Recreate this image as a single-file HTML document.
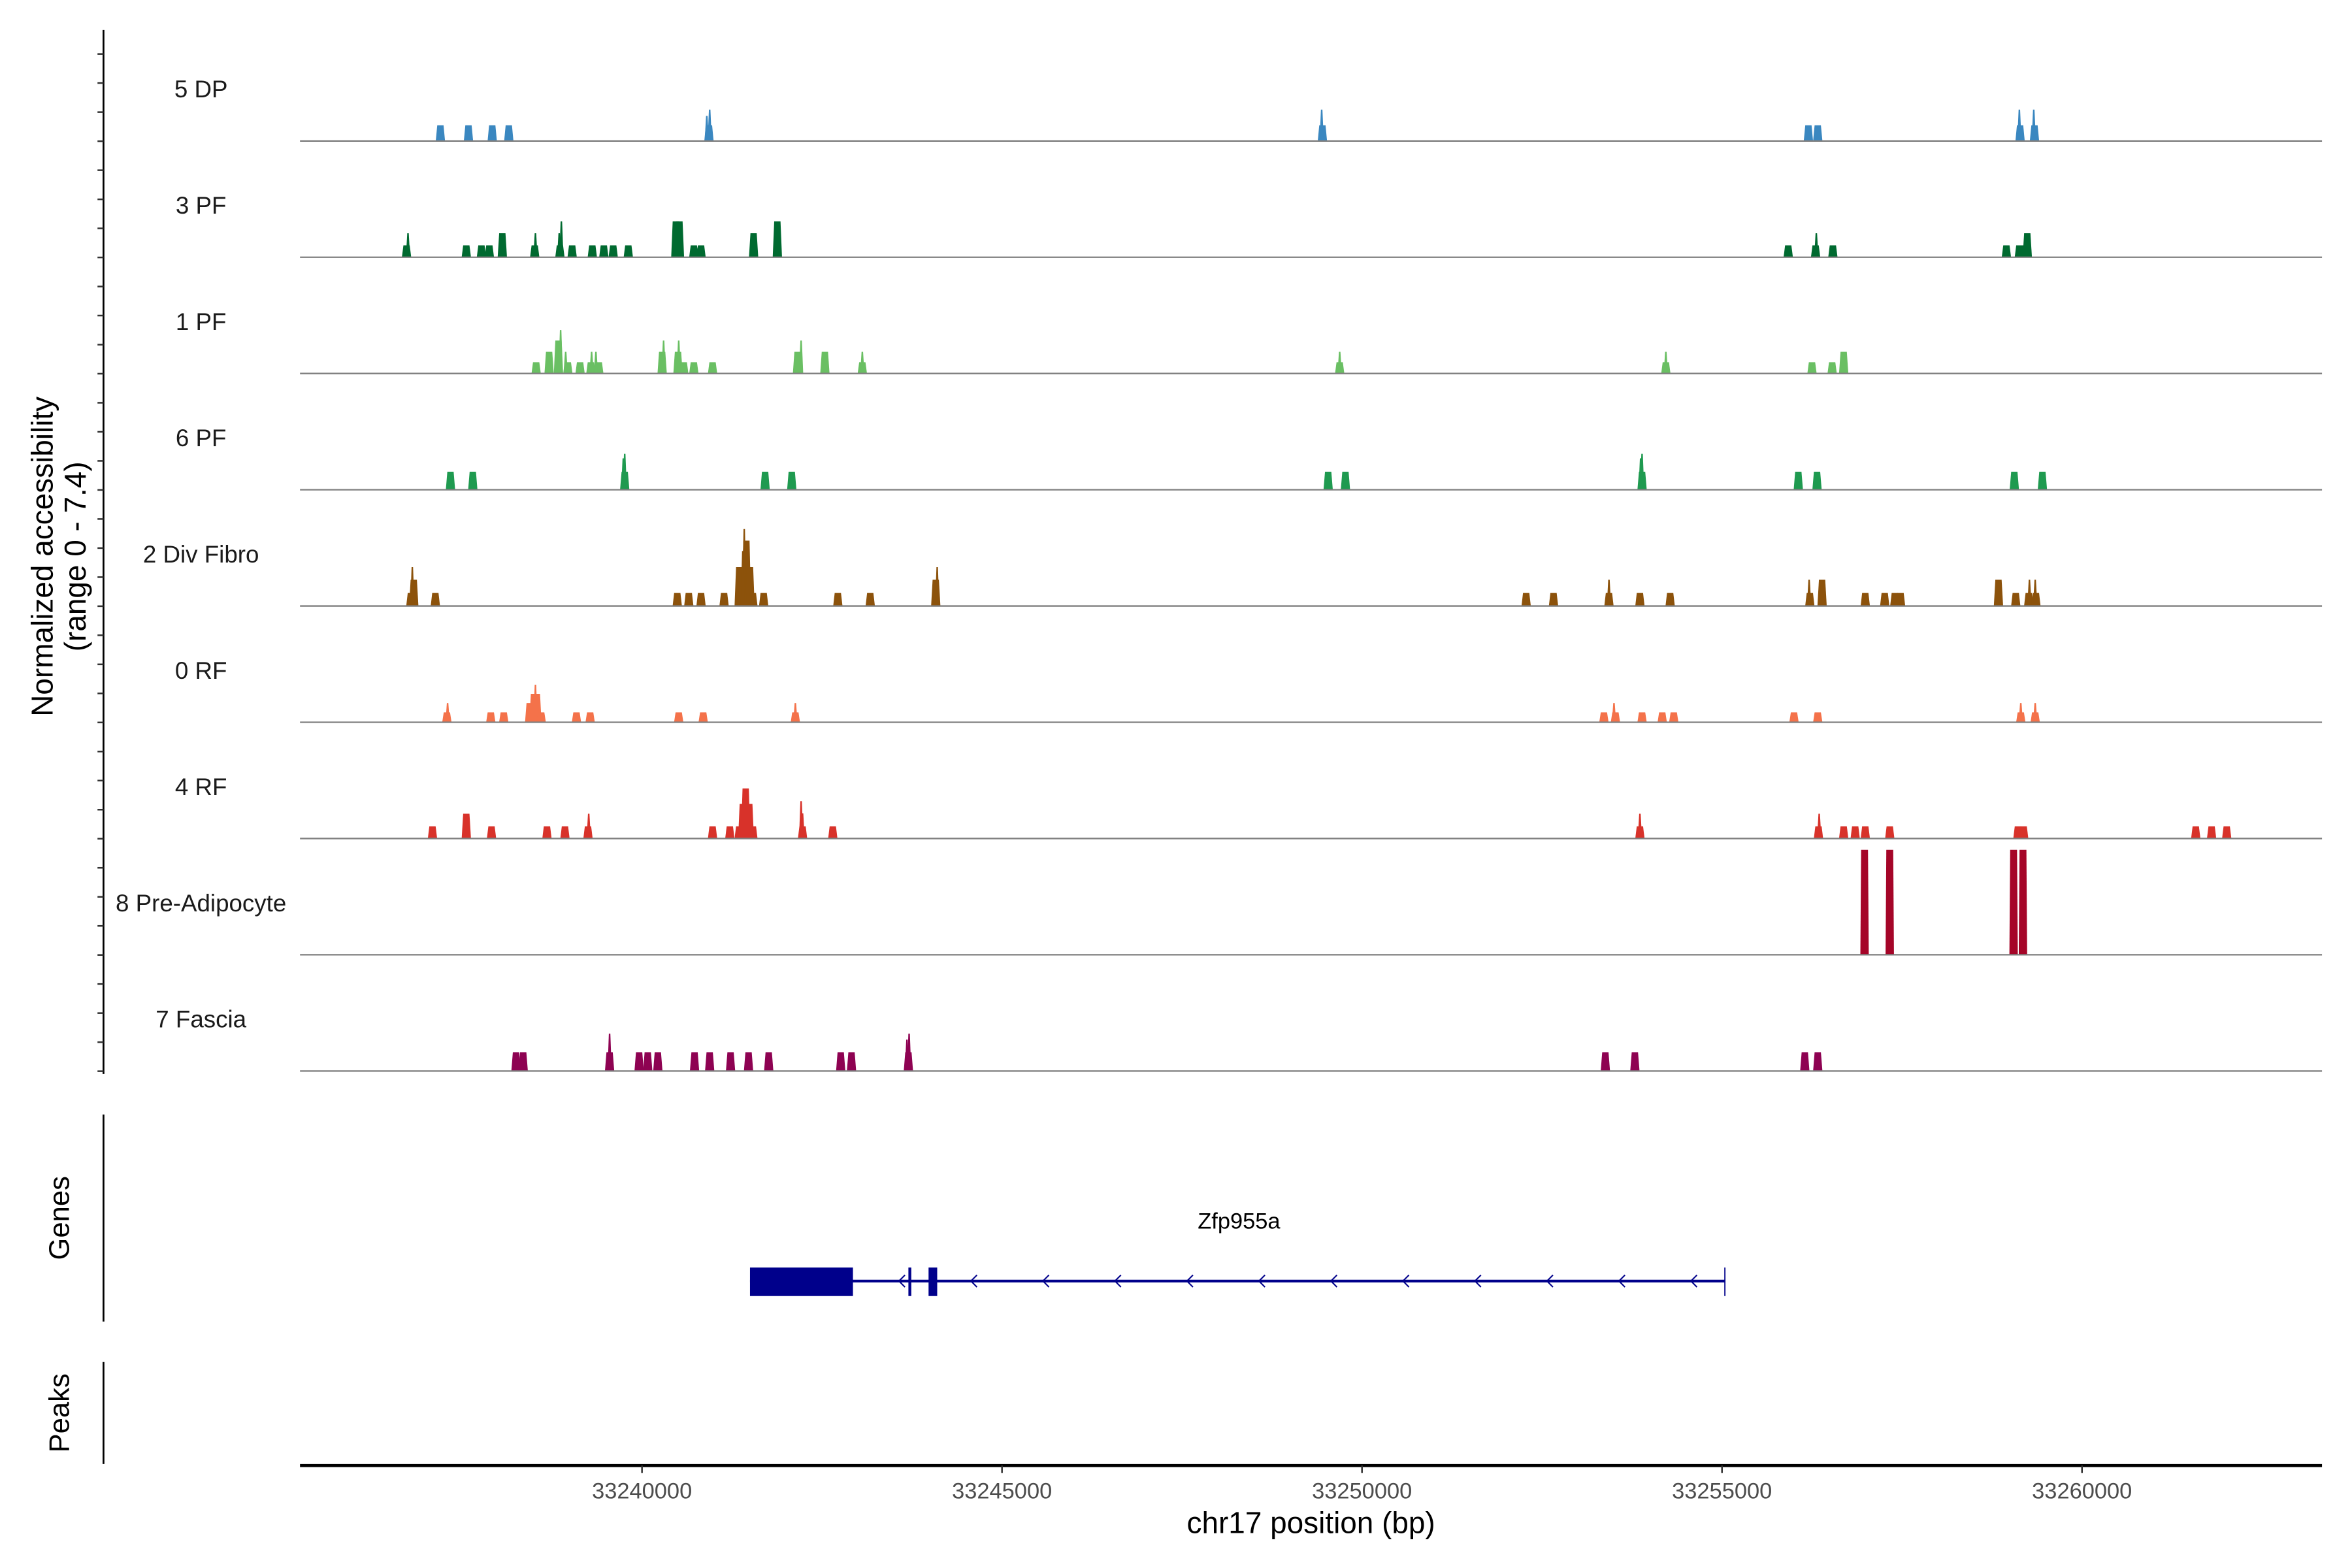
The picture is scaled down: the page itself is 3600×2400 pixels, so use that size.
<!DOCTYPE html>
<html><head><meta charset="utf-8"><style>
html,body{margin:0;padding:0;background:#fff;}
svg{display:block;}
text{font-family:"Liberation Sans",Arial,sans-serif;}
</style></head><body>
<svg id="chart" width="3600" height="2400" viewBox="0 0 1568 1045.3" preserveAspectRatio="none" xmlns="http://www.w3.org/2000/svg">
<g id="axes">
  <line x1="69" y1="20" x2="69" y2="716" stroke="#000" stroke-width="1.2"/>
  <g id="yticks"></g>
  <text transform="translate(35,371) rotate(-90)" text-anchor="middle" font-size="20">Normalized accessibility</text>
  <text transform="translate(57,371) rotate(-90)" text-anchor="middle" font-size="20">(range 0 - 7.4)</text>
  <line x1="69" y1="743" x2="69" y2="881" stroke="#000" stroke-width="1.2"/>
  <text transform="translate(46,812) rotate(-90)" text-anchor="middle" font-size="19">Genes</text>
  <line x1="69" y1="908" x2="69" y2="976" stroke="#000" stroke-width="1.2"/>
  <text transform="translate(46,942) rotate(-90)" text-anchor="middle" font-size="19">Peaks</text>
  <line x1="200" y1="977" x2="1548" y2="977" stroke="#000" stroke-width="2"/>
  <g id="xticks"></g>
  <text x="874" y="1022" text-anchor="middle" font-size="20">chr17 position (bp)</text>
</g>
<g id="tracks"></g>
<g id="gene">
  <text x="826" y="819" text-anchor="middle" font-size="15">Zfp955a</text>
</g>
</svg>
<script>
// ---- data (positions in kb, values in normalized accessibility) ----
const trackNames = ["5 DP","3 PF","1 PF","6 PF","2 Div Fibro","0 RF","4 RF","8 Pre-Adipocyte","7 Fascia"];
const trackColors = ["#3a87c0","#006a30","#6abf63","#1f9a50","#8c520b","#f4724a","#d8322a","#a50528","#8e0252"];
const xTickValues = [33240000,33245000,33250000,33255000,33260000];
const xTickLabels = ["33240000","33245000","33250000","33255000","33260000"];
const yRangeMax = 7.4;

const peaksDP = [[33237.20,1.0],[33237.59,1.0],[33237.92,1.0],[33238.15,1.0],[33240.93,1.0],[33249.45,1.0],[33256.20,1.0],[33256.33,1.0],[33259.14,1.0],[33259.34,1.0]];
const spikesDP = [[33240.94,2.0],[33240.90,1.6],[33249.44,2.0],[33259.13,2.0],[33259.33,2.0]];
const peaks3PF = [[33236.73,.76],[33237.56,.76],[33237.77,.76],[33237.88,.76],[33238.06,1.53],[33238.51,.76],[33238.86,.76],[33239.03,.76],[33239.31,.76],[33239.47,.76],[33239.60,.76],[33239.81,.76],[33240.47,2.29],[33240.52,2.29],[33240.72,.76],[33240.82,.76],[33241.55,1.53],[33241.88,2.29],[33255.92,.76],[33256.30,.76],[33256.54,.76],[33258.95,.76],[33259.13,.76],[33259.19,.76],[33259.24,1.53]];
const spikes3PF = [[33236.75,1.53],[33238.52,1.53],[33238.88,2.29],[33238.85,1.53],[33256.31,1.53]];
const peaks1PF = [[33238.53,.72],[33238.71,1.38],[33238.84,2.1],[33238.97,.72],[33239.14,.72],[33239.29,.72],[33239.40,.72],[33240.28,1.38],[33240.50,1.38],[33240.58,.72],[33240.72,.72],[33240.98,.72],[33242.16,1.38],[33242.54,1.38],[33243.06,.72],[33249.69,.72],[33254.22,.72],[33256.25,.72],[33256.53,.72],[33256.69,1.38]];
const spikes1PF = [[33238.87,2.77],[33238.94,1.38],[33239.30,1.38],[33239.36,1.38],[33240.30,2.1],[33240.51,2.1],[33242.21,2.1],[33243.06,1.38],[33249.69,1.38],[33254.22,1.38],[33256.69,1.38]];
const peaks6PF = [[33237.34,1.15],[33237.65,1.15],[33239.76,1.15],[33241.71,1.15],[33242.08,1.15],[33249.53,1.15],[33249.77,1.15],[33253.89,1.15],[33256.06,1.15],[33256.32,1.15],[33259.06,1.15],[33259.45,1.15]];
const spikes6PF = [[33239.76,2.29],[33239.74,2.0],[33253.89,2.29],[33253.87,2.0]];
const peaksDiv = [[33236.79,.83],[33236.83,1.67],[33237.13,.83],[33240.49,.83],[33240.65,.83],[33240.82,.83],[33241.14,.83],[33241.35,2.48],[33241.45,4.16],[33241.50,2.48],[33241.54,.83],[33241.69,.83],[33242.72,.83],[33243.17,.83],[33244.08,1.67],[33252.28,.83],[33252.66,.83],[33253.43,.83],[33253.86,.83],[33254.28,.83],[33256.22,.83],[33256.39,1.67],[33256.99,.83],[33257.26,.83],[33257.40,.83],[33257.48,.83],[33258.84,1.67],[33259.08,.83],[33259.26,.83],[33259.36,.83]];
const spikesDiv = [[33236.81,2.48],[33241.42,4.9],[33241.40,3.5],[33244.10,2.48],[33253.43,1.67],[33256.21,1.67],[33259.27,1.67],[33259.35,1.67]];
const peaks0RF = [[33237.29,.63],[33237.90,.63],[33238.08,.63],[33238.44,1.22],[33238.50,1.81],[33238.54,1.81],[33238.60,.63],[33239.09,.63],[33239.28,.63],[33240.51,.63],[33240.85,.63],[33242.13,.63],[33253.36,.63],[33253.52,.63],[33253.89,.63],[33254.17,.63],[33254.33,.63],[33256.00,.63],[33256.33,.63],[33259.15,.63],[33259.35,.63]];
const spikes0RF = [[33237.30,1.22],[33238.52,2.39],[33242.13,1.22],[33253.50,1.22],[33259.15,1.22],[33259.35,1.22]];
const peaks4RF = [[33237.09,.78],[33237.56,1.58],[33237.91,.78],[33238.68,.78],[33238.93,.78],[33239.25,.78],[33240.98,.78],[33241.22,.78],[33241.35,.78],[33241.40,2.2],[33241.44,3.19],[33241.49,2.2],[33241.54,.78],[33242.23,.78],[33242.65,.78],[33253.86,.78],[33256.34,.78],[33256.69,.78],[33256.85,.78],[33256.99,.78],[33257.33,.78],[33259.11,.78],[33259.19,.78],[33261.58,.78],[33261.80,.78],[33262.01,.78]];
const spikes4RF = [[33239.26,1.58],[33242.21,2.38],[33242.23,1.6],[33253.86,1.58],[33256.35,1.58]];
const peaksPre = [[33256.98,6.68],[33257.33,6.68],[33259.05,6.68],[33259.18,6.68]];
const spikesPre = [];
const peaksFas = [[33238.25,1.2],[33238.35,1.2],[33239.55,1.2],[33239.96,1.2],[33240.08,1.2],[33240.22,1.2],[33240.73,1.2],[33240.94,1.2],[33241.23,1.2],[33241.48,1.2],[33241.76,1.2],[33242.76,1.2],[33242.91,1.2],[33243.70,1.2],[33253.38,1.2],[33253.79,1.2],[33256.15,1.2],[33256.33,1.2]];
const spikesFas = [[33239.55,2.38],[33243.71,2.38],[33243.68,2.0]];

const allPeaks = [peaksDP,peaks3PF,peaks1PF,peaks6PF,peaksDiv,peaks0RF,peaks4RF,peaksPre,peaksFas];
const allSpikes = [spikesDP,spikes3PF,spikes1PF,spikes6PF,spikesDiv,spikes0RF,spikes4RF,spikesPre,spikesFas];

// gene model (bp)
const geneStart = 33241500, geneEnd = 33255040;
const geneExons = [[33241500,33242930],[33243700,33243740],[33243980,33244100]];
const geneArrows = [33243600,33244600,33245600,33246600,33247600,33248600,33249600,33250600,33251600,33252600,33253600,33254600];

// ---- scales ----
const NS="http://www.w3.org/2000/svg";
function xScale(bp){ return 428 + (bp-33240000)*240/5000; }
const trackTop = 94, trackStep = 77.5;
function baseline(i){ return trackTop + i*trackStep; }
function hScale(v){ return v/yRangeMax*trackStep; }
function mk(tag,attrs,parent){ const e=document.createElementNS(NS,tag); for(const k in attrs) e.setAttribute(k,attrs[k]); parent.appendChild(e); return e; }

const tracks=document.getElementById('tracks');
for(let i=0;i<trackNames.length;i++){
  const g=mk('g',{},tracks);
  
  
  const b=baseline(i);
  const lab=mk('text',{x:134,y:b-29,'text-anchor':'middle','font-size':16,fill:'#1a1a1a'},g);
  lab.textContent=trackNames[i];
  
  
  const col=trackColors[i];
  for(const p of allPeaks[i]){
    const x=xScale(p[0]*1000), h=hScale(p[1]);
    const wb = i===7?5.6:6.2, wt = i===7?4.6:4.2;
    const poly=mk('polygon',{points:`${x-wb/2},${b} ${x-wt/2},${b-h} ${x+wt/2},${b-h} ${x+wb/2},${b}`,fill:col},g);
    
    
  }
  for(const p of allSpikes[i]){
    const x=xScale(p[0]*1000), h=hScale(p[1]);
    const poly=mk('polygon',{points:`${x-1.4},${b} ${x-0.5},${b-h} ${x+0.5},${b-h} ${x+1.4},${b}`,fill:col},g);
    
    
  }
  const ln=mk('line',{x1:200,y1:b,x2:1548,y2:b,stroke:'#7f7f7f','stroke-width':1},g);
  
  
}

// y ticks
const yt=document.getElementById('yticks');
for(let y=36;y<=716;y+=trackStep/4){
  const t=mk('line',{x1:65,y1:y,x2:69,y2:y,stroke:'#333','stroke-width':1.1},yt);
  
  
}
// x ticks
const xt=document.getElementById('xticks');
for(let k=0;k<xTickValues.length;k++){
  const x=xScale(xTickValues[k]);
  const t=mk('line',{x1:x,y1:977,x2:x,y2:982,stroke:'#333','stroke-width':1.1},xt);
  
  
  const tl=mk('text',{x:x,y:999,'text-anchor':'middle','font-size':15,fill:'#4d4d4d'},xt);
  tl.textContent=xTickLabels[k];
  
  
}
// gene
const gg=document.getElementById('gene');
const gy=854;
const gl=mk('line',{x1:xScale(geneStart),y1:gy,x2:xScale(geneEnd),y2:gy,stroke:'#00008b','stroke-width':1.8},gg);


const ge=mk('line',{x1:xScale(geneEnd),y1:845,x2:xScale(geneEnd),y2:864,stroke:'#00008b','stroke-width':0.8},gg);


for(const e of geneExons){
  const x1=xScale(e[0]), x2=xScale(e[1]);
  const r=mk('rect',{x:x1,y:845,width:Math.max(1.4,x2-x1),height:19,fill:'#00008b'},gg);
  
  
}
for(const a of geneArrows){
  const x=xScale(a);
  const p=mk('polyline',{points:`${x+2.5},${gy-4} ${x-1.5},${gy} ${x+2.5},${gy+4}`,fill:'none',stroke:'#00008b','stroke-width':0.9},gg);
  
  
}
</script>
</body></html>
